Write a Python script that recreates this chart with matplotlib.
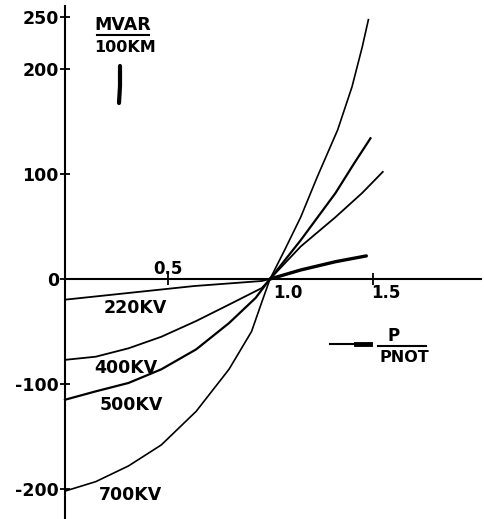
import matplotlib
matplotlib.use('Agg')
import matplotlib.pyplot as plt
from matplotlib.lines import Line2D

plt.rcParams['axes.unicode_minus'] = False
plt.rcParams['font.family'] = 'DejaVu Sans'

W, H = 484, 519

# P/PNOT vs MVAR per 100 km
p_220 = [0.0, 0.31, 0.63, 0.96, 1.0, 1.15, 1.32, 1.47]
q_220 = [-19.7, -13.3, -6.7, -1.9, 0, 8.6, 16.5, 22]

p_400 = [0.0, 0.15, 0.31, 0.47, 0.64, 0.80, 0.96, 1.0, 1.15, 1.32, 1.45, 1.55]
q_400 = [-77, -74, -66, -55, -40, -24.4, -8.6, 0, 31, 59, 82, 102]

p_500 = [0.0, 0.15, 0.31, 0.47, 0.64, 0.80, 0.93, 1.0, 1.15, 1.32, 1.41, 1.49]
q_500 = [-115, -107, -99, -86, -67, -42, -18, 0, 37, 82, 110, 134]

p_700 = [0.0, 0.15, 0.31, 0.47, 0.64, 0.80, 0.91, 0.96, 1.0, 1.07, 1.15, 1.23,
         1.33, 1.40, 1.45, 1.48]
q_700 = [-202, -193, -178, -158, -126, -86, -50, -22, 0, 27, 59, 97,
         142, 183, 221, 247]

ytick_vals = [250, 200, 100, 0, -100, -200]
ytick_text = ['250', '200', '100', '0', '-100', '-200']
curve_names = ['220KV', '400KV', '500KV', '700KV']


def fpos(x, y):
    # pixel position -> figure fraction
    return x / W, 1 - y / H


fig = plt.figure(figsize=(W / 100, H / 100), dpi=100)
ax = fig.add_axes([0, 0, 1, 1])
ax.set_xlim(-65 / 205, (W - 65) / 205)
ax.set_ylim((279 - H) / 1.05, 279 / 1.05)

ax.plot(p_220[:5], q_220[:5], color='black', lw=1.3)
ax.plot(p_220[4:], q_220[4:], color='black', lw=2.4, solid_capstyle='round')
ax.plot(p_400, q_400, color='black', lw=1.3)
ax.plot(p_500, q_500, color='black', lw=1.6)
ax.plot(p_700, q_700, color='black', lw=1.2)

for s in ['top', 'right']:
    ax.spines[s].set_visible(False)
ax.spines['left'].set_position(('data', 0))
ax.spines['bottom'].set_position(('data', 0))
ax.spines['left'].set_bounds((279 - H) / 1.05, 260)
ax.spines['bottom'].set_bounds(0, 2.03)
ax.spines['left'].set_linewidth(1.5)
ax.spines['bottom'].set_linewidth(1.5)

ax.set_yticks(ytick_vals)
ax.set_yticklabels(ytick_text, fontsize=12.5, fontweight='bold')
ax.tick_params(axis='y', direction='inout', length=7, width=1.3, pad=1)
ax.set_xticks([0.5, 1.5])
ax.set_xticklabels([])
ax.tick_params(axis='x', direction='inout', length=9, width=1.3)

tk = dict(fontsize=12, fontweight='bold', color='black')
fig.text(*fpos(168, 269), '0.5', ha='center', va='center', **tk)
fig.text(*fpos(288, 293), '1.0', ha='center', va='center', **tk)
fig.text(*fpos(386, 293), '1.5', ha='center', va='center', **tk)

lab = dict(fontsize=12.5, fontweight='bold', color='black', ha='center', va='center')
fig.text(*fpos(135, 308), curve_names[0], **lab)
fig.text(*fpos(126, 368), curve_names[1], **lab)
fig.text(*fpos(131, 405), curve_names[2], **lab)
fig.text(*fpos(130, 495), curve_names[3], **lab)

# units label
fig.text(*fpos(123, 25), 'MVAR', fontsize=12.5, fontweight='bold', ha='center', va='center')
fig.add_artist(Line2D([97 / W, 149 / W], [1 - 35 / H, 1 - 35 / H], color='black', lw=1.5))
fig.text(*fpos(125, 47), '100KM', fontsize=11.5, fontweight='bold', ha='center', va='center')
fig.add_artist(Line2D([120 / W, 120 / W, 119 / W], [1 - 66 / H, 1 - 86 / H, 1 - 103 / H],
                      color='black', lw=3, solid_capstyle='round'))

# P / PNOT label with arrow dash
fig.add_artist(Line2D([330 / W, 370 / W], [1 - 344 / H, 1 - 344 / H], color='black', lw=1.5))
fig.add_artist(Line2D([356 / W, 370 / W], [1 - 344 / H, 1 - 344 / H], color='black', lw=3.5))
fig.text(*fpos(394, 336), 'P', fontsize=12, fontweight='bold', ha='center', va='center')
fig.add_artist(Line2D([378 / W, 426 / W], [1 - 346 / H, 1 - 346 / H], color='black', lw=1.5))
fig.text(*fpos(404, 357), 'PNOT', fontsize=11.5, fontweight='bold', ha='center', va='center')

fig.savefig('out.png', dpi=100)
